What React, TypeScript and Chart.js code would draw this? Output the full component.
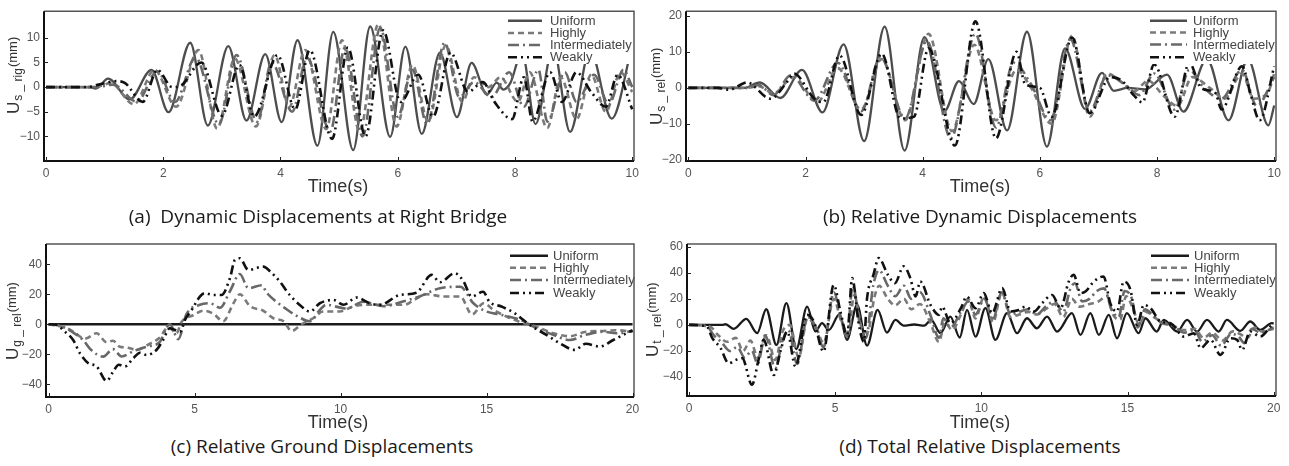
import React, { useEffect, useRef } from 'react';
import { Chart, registerables } from 'chart.js';
Chart.register(...registerables);

type P = [number, number][];

const SERIES_NAMES = ['Uniform', 'Highly', 'Intermediately', 'Weakly'];

// ---------- (a) Dynamic Displacements at Right Bridge ----------
const A_UNIFORM: P = [[0,0],[0.75,0],[0.85,-0.3],[1.06,1.7],[1.43,-2.5],[1.8,3.5],[2.09,-5.1],[2.46,9.0],[2.76,-7.8],[3.11,8.3],[3.42,-6.8],[3.74,6.7],[4.02,-7.1],[4.29,9.5],[4.63,-11.9],[4.9,11.2],[5.24,-12.8],[5.53,12.3],[5.87,-10.1],[6.13,8.2],[6.41,-9.5],[6.72,7.0],[7.01,-6.1],[7.26,4.9],[7.52,-1.5],[7.69,0.9],[7.8,-0.5],[7.92,0.8],[8.12,7.0],[8.35,-7.5],[8.65,8.0],[8.94,-9.1],[9.28,7.5],[9.65,-6.4],[10,8.5]];
const A_HIGHLY: P = [[0,0],[0.85,0],[1.1,0.8],[1.5,-3.5],[1.85,3.5],[2.22,-4],[2.6,7.5],[2.92,-8.4],[3.22,5.8],[3.58,-8],[3.9,6.5],[4.15,-4],[4.42,7.5],[4.78,-8.5],[5.05,9.5],[5.35,-9],[5.67,12.8],[5.98,-8],[6.25,4.5],[6.52,-7],[6.82,8.5],[7.1,-3],[7.3,2],[7.55,0],[7.75,2],[8.05,-3],[8.25,3],[8.55,-8.3],[8.78,2],[9.05,-6.5],[9.3,2.5],[9.55,-5],[9.8,3],[10,-1]];
const A_INTER: P = [[0,0],[0.85,0],[1.15,0.5],[1.55,-3],[1.9,3.2],[2.2,-3],[2.55,6],[2.95,-7.5],[3.25,6.5],[3.6,-7],[3.85,5],[4.2,-5],[4.45,6],[4.85,-9],[5.1,8],[5.4,-10],[5.7,12],[6.0,-6],[6.25,3.5],[6.5,-7.5],[6.8,9],[7.05,-2],[7.3,1],[7.6,-2],[7.9,3],[8.15,-4],[8.4,3.5],[8.55,-7],[8.85,3],[9.05,-3],[9.35,2.5],[9.6,-3.5],[9.85,3.5],[10,0]];
const A_WEAKLY: P = [[0,0],[0.7,0],[0.9,0.5],[1.2,1.2],[1.35,0.8],[1.65,-3],[1.9,3.5],[2.15,0],[2.3,0.3],[2.65,5],[3.0,-5.8],[3.3,4.5],[3.55,-6],[3.95,6.5],[4.25,-4.5],[4.5,7.5],[4.88,-10.5],[5.15,8],[5.45,-10],[5.75,11.5],[6.05,-3],[6.35,2.5],[6.6,-6],[6.9,7],[7.2,-1],[7.45,1],[7.65,-3],[7.95,-6.5],[8.15,2],[8.3,-7],[8.6,3],[8.8,-3],[9.05,3],[9.3,-1],[9.55,-4],[9.75,2.5],[10,-4.5]];

// ---------- (b) Relative Dynamic Displacements ----------
const B_UNIFORM: P = [[0,0],[0.95,0],[1.22,1.5],[1.57,-2.8],[1.94,5.0],[2.29,-6.8],[2.65,12.1],[3.0,-14.8],[3.35,17.0],[3.69,-17.4],[4.03,14.1],[4.37,-6.5],[4.62,1.9],[4.87,-4.5],[5.12,8.0],[5.44,-11.8],[5.78,15.6],[6.12,-16.3],[6.43,11.0],[6.77,-5.8],[7.06,4.2],[7.26,-0.8],[7.5,0],[7.8,-0.4],[8.17,3.7],[8.45,-6.6],[8.85,8],[9.22,-9.0],[9.55,8],[9.9,-10.4],[10,-4.9]];
const B_HIGHLY: P = [[0,0],[1.0,0],[1.2,0.5],[1.45,-1.5],[1.8,3],[2.2,-4],[2.55,5.5],[2.95,-6],[3.3,8],[3.7,-9],[4.1,15],[4.5,-12],[4.88,12],[5.25,-9],[5.6,5],[5.85,0],[6.2,-10],[6.55,14.5],[6.85,-8],[7.15,4],[7.4,1.5],[7.6,-1],[7.85,2],[8.1,-2],[8.35,-5],[8.6,3],[8.9,0],[9.15,-3],[9.45,4],[9.65,-3],[9.9,-1],[10,4]];
const B_INTER: P = [[0,0],[1.0,0],[1.2,0.8],[1.45,-2],[1.75,3.5],[2.15,-3.5],[2.55,7],[2.95,-6.5],[3.28,8.5],[3.7,-8.5],[4.07,13],[4.48,-14],[4.9,15],[5.25,-11],[5.55,7],[5.85,1],[6.18,-9],[6.52,13.5],[6.85,-6.5],[7.15,3.5],[7.45,1],[7.7,-2],[7.95,4],[8.3,-6],[8.55,5],[8.8,0],[9.1,-3],[9.45,5],[9.7,-5],[10,3]];
const B_WEAKLY: P = [[0,0],[0.5,0],[0.7,-0.5],[1.0,1.5],[1.4,-3],[1.7,2],[1.8,4],[2.15,-3],[2.3,-4],[2.58,9],[2.95,-7.5],[3.3,9.5],[3.62,-8.5],[3.85,-8],[4.1,11],[4.55,-16],[4.9,18.5],[5.25,-14],[5.6,10],[5.75,1],[6.0,0],[6.2,-8],[6.55,14],[6.85,-7],[7.2,3],[7.4,2],[7.6,-2],[7.75,-4],[7.95,6.5],[8.3,-8],[8.55,7],[8.75,0],[9.0,-1.5],[9.1,-6],[9.45,6],[9.6,-2],[9.75,-9],[10,6]];

// ---------- (c) Relative Ground Displacements ----------
const C_UNIFORM: P = [[0,0],[5,0],[10,0],[15,0],[20,0]];
const C_HIGHLY: P = [[0,0],[0.6,-2.5],[0.85,-5],[1.25,-9.6],[1.64,-6],[1.99,-12],[2.2,-11],[2.44,-15],[2.67,-15.5],[3.0,-17],[3.47,-13],[3.8,-9],[4.1,-2],[4.38,-6],[4.55,1.5],[4.95,6],[5.3,9],[5.64,7],[5.98,2],[6.33,14],[6.55,20],[6.9,12],[7.35,9],[7.7,4],[8.05,2],[8.32,-4.5],[8.66,0],[9.06,4],[9.4,8.5],[9.97,8.5],[10.45,12],[11.0,13],[11.6,13],[12.2,13],[12.5,16],[12.95,20],[13.53,18.5],[14.1,18.5],[14.5,6.5],[14.9,14],[15.24,9.5],[15.7,5],[16.15,1.5],[16.7,-1.5],[17.28,-6],[17.85,-8],[18.4,-5],[19.0,-4.5],[19.45,-4],[20,-5]];
const C_INTER: P = [[0,0],[0.4,-1],[0.8,-5],[1.18,-10.5],[1.45,-17],[1.87,-21.6],[2.2,-16.6],[2.5,-21.5],[2.9,-18],[3.35,-15],[3.8,-12],[4.15,0],[4.44,-10],[4.72,6.7],[5.18,13],[5.52,14],[5.87,11],[6.21,22],[6.55,33.5],[6.84,24],[7.3,26],[7.47,21],[7.8,15],[8.15,10],[8.55,5],[8.95,2],[9.29,9.5],[9.5,13],[10.2,10.5],[10.78,15],[11.47,12],[12.1,15],[12.7,18.5],[13.4,24],[14.1,25],[14.55,14],[15.0,8.5],[15.45,6.5],[16.15,3],[16.7,-2.5],[17.28,-7],[17.85,-10.5],[18.4,-7],[19.0,-5],[19.45,-6],[20,-4.5]];
const C_WEAKLY: P = [[0,0],[0.3,-0.5],[0.5,-4],[0.84,-10.5],[1.07,-19.3],[1.36,-26],[1.64,-28],[1.99,-37.8],[2.21,-31.6],[2.4,-27],[2.61,-28.2],[2.9,-22.7],[3.13,-19],[3.36,-20.5],[3.7,-17],[3.92,-10.5],[4.15,-2.7],[4.5,-5],[4.67,2.9],[4.9,9.5],[5.18,18.4],[5.35,20.7],[5.64,19.5],[5.92,19.5],[6.21,30.7],[6.38,42.9],[6.55,44],[6.84,36.2],[7.35,38.4],[7.6,35],[7.92,28.4],[8.26,19.5],[8.6,12.9],[8.95,8.4],[9.29,14],[9.75,16.2],[10.1,13],[10.55,17.8],[11.0,14],[11.35,12.9],[12.03,19.5],[12.6,21],[13.12,32.9],[13.4,28],[13.91,34],[14.2,29],[14.49,18.4],[14.88,21.7],[15.1,15],[15.51,11.8],[15.97,7.3],[16.48,-0.5],[17.05,-7.1],[17.51,-12.7],[18.02,-17.1],[18.4,-13],[18.88,-14.9],[19.34,-10.5],[19.9,-4.9],[20,-4]];

// ---------- (d) Total Relative Displacements ----------
const D_UNIFORM: P = [[0,0],[1.13,0],[1.25,0.5],[1.53,-3],[1.96,4.6],[2.33,-6.4],[2.64,12],[2.99,-15.4],[3.33,16.7],[3.67,-18.5],[4.04,14],[4.32,-5],[4.55,1.3],[4.78,-4],[5.15,8.2],[5.4,-11.5],[5.75,15.4],[6.09,-15.9],[6.45,11.5],[6.77,-5.9],[7.06,3.8],[7.34,-0.5],[7.7,0.3],[8.05,-0.5],[8.28,3.8],[8.6,-6.4],[8.94,6.4],[9.26,-9.7],[9.51,11.5],[9.8,-9],[10.14,12.8],[10.48,-11.5],[10.88,9],[11.22,-6.4],[11.56,5.1],[11.9,-2.6],[12.25,6.4],[12.59,-5.1],[13.1,9],[13.39,-7.7],[13.73,9],[14.02,-7.7],[14.36,7.7],[14.64,-10.3],[14.98,9],[15.38,-6.4],[15.61,5.1],[16.0,-5.1],[16.24,3.8],[16.7,-5.1],[17.04,3.8],[17.38,-5.1],[17.72,3.8],[18.12,-5.1],[18.4,3.8],[18.86,-4.6],[19.2,2.6],[19.54,-3.8],[19.94,1.3],[20,1]];
const D_HIGHLY: P = [[0,0],[0.7,-1],[1.0,-8],[1.3,-13],[1.6,-10],[1.85,-20],[2.1,-12],[2.35,-25],[2.65,-8],[2.95,-27],[3.2,-5],[3.45,0],[3.75,-25],[4.05,5],[4.35,-2],[4.6,-14],[4.95,20],[5.2,3],[5.45,-7],[5.65,23],[5.9,-2],[6.1,-6],[6.35,22],[6.5,30],[6.8,20],[7.05,15],[7.35,20],[7.6,12],[7.9,16],[8.25,2],[8.55,-13],[8.75,2],[9.0,-4],[9.3,8],[9.55,20],[9.8,5],[10.1,22],[10.4,2],[10.7,25],[11.0,6],[11.3,8],[11.6,10],[11.9,8],[12.2,12],[12.5,16],[12.8,6],[13.1,20],[13.35,14],[13.7,16],[14.0,18],[14.3,22],[14.5,8],[14.75,4],[14.95,22],[15.2,12],[15.4,0],[15.65,10],[15.9,6],[16.2,2],[16.6,-1],[16.95,-4],[17.3,-3],[17.6,-10],[17.9,-6],[18.25,-12],[18.6,-5],[18.85,-7],[19.1,-10],[19.35,-2],[19.6,-5],[20,-3]];
const D_INTER: P = [[0,0],[0.6,-1],[0.85,-8],[1.1,-13],[1.4,-20],[1.65,-17],[1.9,-25],[2.15,-20],[2.35,-30],[2.6,-8],[2.95,-33],[3.2,-12],[3.4,-4],[3.7,-30],[4.05,6],[4.3,0],[4.6,-17],[4.95,25],[5.2,5],[5.4,-9],[5.6,30],[5.85,0],[6.05,-10],[6.3,30],[6.5,42],[6.8,30],[7.05,22],[7.35,30],[7.6,20],[7.9,25],[8.25,8],[8.55,-10],[8.7,5],[8.95,-2],[9.3,10],[9.55,18],[9.8,8],[10.1,20],[10.4,5],[10.7,25],[11.0,8],[11.3,10],[11.6,12],[11.9,8],[12.2,14],[12.5,18],[12.8,10],[13.05,28],[13.2,32],[13.45,18],[13.7,20],[13.95,26],[14.2,28],[14.45,12],[14.7,6],[14.9,26],[15.15,20],[15.35,-2],[15.6,12],[15.85,8],[16.2,1],[16.5,0],[16.95,-6],[17.3,-4],[17.55,-13],[17.9,-8],[18.2,-16],[18.55,-7],[18.8,-9],[19.0,-14],[19.25,-3],[19.55,-6],[20,-2]];
const D_WEAKLY: P = [[0,0],[0.6,-1],[0.79,-10],[1.07,-17.5],[1.36,-29.5],[1.59,-27],[1.82,-25.5],[2.15,-46],[2.39,-25.5],[2.55,-11.5],[2.9,-38.5],[3.13,-20],[3.36,-5],[3.64,-32],[4.04,7.7],[4.27,2.5],[4.6,-20.5],[4.95,30.8],[5.18,10],[5.41,-7.7],[5.58,35.9],[5.81,0],[5.98,-12.8],[6.09,20.5],[6.31,38.5],[6.49,51.3],[6.8,38.5],[7.04,32],[7.34,44.9],[7.57,35.9],[7.75,21.8],[7.91,33.3],[8.26,15.4],[8.55,7.7],[8.66,14],[8.94,1.3],[9.3,12.8],[9.5,21.8],[9.8,12.8],[10.08,24.4],[10.37,9],[10.71,28.2],[11.0,10.3],[11.28,11.5],[11.51,14],[11.8,10.3],[12.08,16.7],[12.42,23],[12.71,12.8],[12.99,33.3],[13.16,38.5],[13.39,24.4],[13.56,25.6],[13.85,33.3],[14.18,37.2],[14.41,16.7],[14.64,10.3],[14.87,33.3],[15.1,26.9],[15.33,0],[15.56,15.4],[15.79,12.8],[16.13,2.6],[16.47,1.3],[16.93,-9],[17.27,-6.4],[17.5,-17.9],[17.84,-11.5],[18.18,-23],[18.52,-10.3],[18.75,-11.5],[18.92,-19.2],[19.2,-5.1],[19.54,-9],[19.94,0],[20,1]];

const X_TICKS_10 = [0, 2, 4, 6, 8, 10];
const X_TICKS_20 = [0, 5, 10, 15, 20];
const Y_TICKS_A = [-10, -5, 0, 5, 10];
const Y_TICKS_B = [-20, -10, 0, 10, 20];
const Y_TICKS_C = [-40, -20, 0, 20, 40];
const Y_TICKS_D = [-40, -20, 0, 20, 40, 60];

const DASHES = [[], [6, 4], [11, 4, 2, 4], [9, 4, 2, 4, 2, 4]];
const FONT = '"Liberation Sans", Arial, sans-serif';

const deco = {
  id: 'deco',
  afterDatasetsDraw(chart: any, _a: any, o: any) {
    const ctx = chart.ctx;
    const ca = chart.chartArea;
    ctx.save();
    // legend
    const L = o.legend;
    ctx.fillStyle = '#fff';
    ctx.fillRect(L.bx, L.by, L.bw, L.bh);
    L.rows.forEach((ry: number, i: number) => {
      ctx.strokeStyle = o.colors[i];
      ctx.setLineDash(DASHES[i]);
      ctx.lineWidth = 2.5;
      ctx.beginPath();
      ctx.moveTo(L.x1, ry);
      ctx.lineTo(L.x2, ry);
      ctx.stroke();
      ctx.setLineDash([]);
      ctx.fillStyle = '#444';
      ctx.font = '13px ' + FONT;
      ctx.textBaseline = 'middle';
      ctx.textAlign = 'left';
      ctx.fillText(SERIES_NAMES[i], L.tx, ry + 0.5);
    });
    ctx.setLineDash([]);
    // frame
    ctx.strokeStyle = '#555';
    ctx.lineWidth = 1.5;
    ctx.beginPath();
    ctx.moveTo(ca.left, ca.top);
    ctx.lineTo(ca.right, ca.top);
    ctx.lineTo(ca.right, ca.bottom);
    ctx.stroke();
    ctx.strokeStyle = '#111';
    ctx.lineWidth = 2;
    ctx.beginPath();
    ctx.moveTo(ca.left, ca.top);
    ctx.lineTo(ca.left, ca.bottom);
    ctx.lineTo(ca.right, ca.bottom);
    ctx.stroke();
    // inner ticks
    ctx.lineWidth = 1;
    ctx.strokeStyle = '#222';
    const xs = chart.scales.x;
    const ys = chart.scales.y;
    xs.ticks.forEach((t: any) => {
      const px = Math.round(xs.getPixelForValue(t.value)) + 0.5;
      ctx.beginPath();
      ctx.moveTo(px, ca.bottom);
      ctx.lineTo(px, ca.bottom - 4);
      ctx.stroke();
    });
    ys.ticks.forEach((t: any) => {
      const py = Math.round(ys.getPixelForValue(t.value)) + 0.5;
      ctx.beginPath();
      ctx.moveTo(ca.left, py);
      ctx.lineTo(ca.left + 4, py);
      ctx.stroke();
    });
    // x title
    ctx.fillStyle = '#333';
    ctx.font = '18px ' + FONT;
    ctx.textAlign = 'center';
    ctx.textBaseline = 'alphabetic';
    ctx.fillText('Time(s)', o.timeX, o.timeY);
    // y title
    ctx.translate(o.ylx, o.yly);
    ctx.rotate(-Math.PI / 2);
    ctx.textAlign = 'left';
    ctx.font = '17px ' + FONT;
    ctx.fillText('U', 0, 0);
    let w = ctx.measureText('U').width + 1;
    ctx.font = '12px ' + FONT;
    ctx.fillText(o.sub, w, 3);
    w += ctx.measureText(o.sub).width + 1;
    ctx.font = '13px ' + FONT;
    ctx.fillText('(mm)', w, -2);
    ctx.restore();
  },
};

type PanelCfg = {
  left: number; top: number; W: number; H: number;
  area: { l: number; r: number; t: number; b: number };
  xMin: number; xMax: number; xTicks: number[];
  yMin: number; yMax: number; yTicks: number[];
  series: P[]; colors: string[];
  sub: string; ylx: number; yly: number; timeX: number; timeY: number;
  legend: any;
};

const GREYS = ['#4d4d4d', '#7a7a7a', '#686868', '#111111'];
const DARKS = ['#1a1a1a', '#7a7a7a', '#686868', '#111111'];

const PANELS: PanelCfg[] = [
  {
    left: 0, top: 0, W: 645, H: 200, area: { l: 44, r: 634, t: 9, b: 161 },
    xMin: -0.034, xMax: 10.03, xTicks: X_TICKS_10, yMin: -15, yMax: 15.4, yTicks: Y_TICKS_A,
    series: [A_UNIFORM, A_HIGHLY, A_INTER, A_WEAKLY], colors: GREYS,
    sub: 's _ rig', ylx: 19, yly: 114, timeX: 338, timeY: 192,
    legend: { bx: 503, by: 10, bw: 131, bh: 54, x1: 508, x2: 542, tx: 550, rows: [20.7, 33, 45, 57.3] },
  },
  {
    left: 645, top: 0, W: 644, H: 200, area: { l: 41, r: 631, t: 9, b: 161 },
    xMin: -0.04, xMax: 10.03, xTicks: X_TICKS_10, yMin: -20.3, yMax: 21.3, yTicks: Y_TICKS_B,
    series: [B_UNIFORM, B_HIGHLY, B_INTER, B_WEAKLY], colors: GREYS,
    sub: 's _ rel', ylx: 17, yly: 125, timeX: 335, timeY: 192,
    legend: { bx: 500, by: 10, bw: 131, bh: 54, x1: 505, x2: 542, tx: 548, rows: [20.7, 32.5, 44.5, 57.3] },
  },
  {
    left: 0, top: 228, W: 645, H: 205, area: { l: 46, r: 634, t: 16, b: 169 },
    xMin: -0.09, xMax: 20.05, xTicks: X_TICKS_20, yMin: -48.5, yMax: 53.5, yTicks: Y_TICKS_C,
    series: [C_UNIFORM, C_HIGHLY, C_INTER, C_WEAKLY], colors: DARKS,
    sub: 'g _ rel', ylx: 18, yly: 132, timeX: 338, timeY: 200,
    legend: { bx: 506, by: 17, bw: 128, bh: 55, x1: 510, x2: 548, tx: 553, rows: [27.7, 39.7, 52, 65] },
  },
  {
    left: 645, top: 228, W: 644, H: 205, area: { l: 42, r: 631, t: 16, b: 168 },
    xMin: -0.07, xMax: 20.08, xTicks: X_TICKS_20, yMin: -54.6, yMax: 62.1, yTicks: Y_TICKS_D,
    series: [D_UNIFORM, D_HIGHLY, D_INTER, D_WEAKLY], colors: DARKS,
    sub: 't _ rel', ylx: 13, yly: 129, timeX: 335, timeY: 200,
    legend: { bx: 502, by: 17, bw: 129, bh: 55, x1: 506, x2: 544, tx: 549, rows: [27.7, 39.7, 52, 65] },
  },
];

const CAPTIONS = [
  { text: '(a)  Dynamic Displacements at Right Bridge', cx: 318, base: 224 },
  { text: '(b) Relative Dynamic Displacements', cx: 980, base: 224 },
  { text: '(c) Relative Ground Displacements', cx: 322, base: 454 },
  { text: '(d) Total Relative Displacements', cx: 980, base: 454 },
];

const fmt = (v: any) => String(v).replace('-', '\u2212');

function Panel({ cfg }: { cfg: PanelCfg }) {
  const ref = useRef<HTMLCanvasElement>(null);
  useEffect(() => {
    if (!ref.current) return;
    const c = cfg;
    const chart = new Chart(ref.current, {
      type: 'line',
      data: {
        datasets: c.series.map((s, i) => ({
          label: SERIES_NAMES[i],
          data: s.map(([x, y]) => ({ x, y })),
          borderColor: c.colors[i],
          borderWidth: i === 0 ? 2.3 : 2.6,
          borderDash: DASHES[i],
          pointRadius: 0,
          fill: false,
          cubicInterpolationMode: 'monotone' as const,
          order: 4 - i,
        })),
      },
      options: {
        responsive: false,
        animation: false,
        events: [],
        layout: { padding: { left: 0, right: c.W - c.area.r, top: c.area.t, bottom: 0 } },
        plugins: { legend: { display: false }, tooltip: { enabled: false }, deco: c } as any,
        scales: {
          x: {
            type: 'linear', min: c.xMin, max: c.xMax,
            grid: { display: false, drawTicks: false }, border: { display: false },
            ticks: { font: { family: FONT, size: 12 }, color: '#555', padding: 5, maxRotation: 0, autoSkip: false, callback: fmt },
            afterBuildTicks: (s: any) => { s.ticks = c.xTicks.map((v) => ({ value: v })); },
            afterFit: (s: any) => { s.height = c.H - c.area.b; },
          },
          y: {
            type: 'linear', min: c.yMin, max: c.yMax,
            grid: { display: false, drawTicks: false }, border: { display: false },
            ticks: { font: { family: FONT, size: 12 }, color: '#555', padding: 4, autoSkip: false, callback: fmt },
            afterBuildTicks: (s: any) => { s.ticks = c.yTicks.map((v) => ({ value: v })); },
            afterFit: (s: any) => { s.width = c.area.l; },
          },
        },
      } as any,
      plugins: [deco],
    });
    return () => chart.destroy();
  }, [cfg]);
  return (
    <canvas
      ref={ref}
      width={cfg.W}
      height={cfg.H}
      style={{ position: 'absolute', left: cfg.left, top: cfg.top, width: cfg.W, height: cfg.H }}
    />
  );
}

export default function App() {
  return (
    <div style={{ position: 'absolute', left: 0, top: 0, width: 1289, height: 466, background: '#fff', overflow: 'hidden' }}>
      {PANELS.map((p, i) => <Panel key={i} cfg={p} />)}
      {CAPTIONS.map((c, i) => (
        <div
          key={'c' + i}
          style={{
            position: 'absolute', left: c.cx - 300, top: c.base - 18, width: 600, textAlign: 'center',
            font: '19px "Open Sans", sans-serif', lineHeight: '20px', color: '#1a1a1a', whiteSpace: 'pre',
          }}
        >
          {c.text}
        </div>
      ))}
    </div>
  );
}
